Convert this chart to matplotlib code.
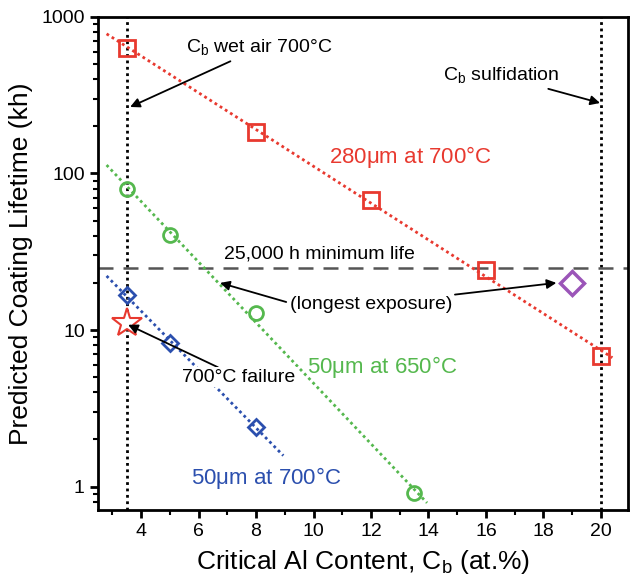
import numpy as np
import matplotlib
matplotlib.use("Agg")
import matplotlib.pyplot as plt
from matplotlib.ticker import FixedLocator, FuncFormatter, LogLocator, NullFormatter

plt.rcParams['font.family'] = ['Liberation Sans', 'DejaVu Sans']

# data
x_280_700 = [3.5, 8, 12, 16, 20]
y_280_700 = [630, 185, 68, 24, 6.8]
x_50_650 = [3.5, 5, 8, 13.5]
y_50_650 = [80, 40.5, 12.8, 0.91]
x_50_700 = [3.5, 5, 8]
y_50_700 = [16.8, 8.3, 2.4]
fail_x, fail_y = [3.5], [11.1]
long_x, long_y = [19], [20]
cb_wet, cb_sulf = 3.5, 20
min_life = 25

red = '#e8392f'
green = '#55b84e'
blue = '#2b4fae'
purple = '#9b55b8'

fig = plt.figure(figsize=(6.32, 5.84), dpi=100)
ax = fig.add_axes([0.155, 0.127, 0.839, 0.844])


def fitline(xs, ys, x0, x1, color):
    p = np.polyfit(xs, np.log10(ys), 1)
    xx = np.linspace(x0, x1, 50)
    ax.plot(xx, 10 ** np.polyval(p, xx), ls=(0, (1, 1.2)), lw=2, color=color, zorder=2)


fitline(x_280_700, y_280_700, 2.8, 20.4, red)
fitline(x_50_650, y_50_650, 2.8, 13.95, green)
fitline(x_50_700, y_50_700, 2.8, 8.95, blue)

ax.axvline(cb_wet, color='black', ls=(0, (1, 1.3)), lw=2, zorder=1)
ax.axvline(cb_sulf, color='black', ls=(0, (1, 1.3)), lw=2, zorder=1)
ax.axhline(min_life, color='#555555', ls=(0, (6, 4)), lw=1.8, zorder=1)

ax.plot(x_280_700, y_280_700, ls='none', marker='s', ms=12, mfc='none', mec=red, mew=2, zorder=4)
ax.plot(x_50_650, y_50_650, ls='none', marker='o', ms=10, mfc='none', mec=green, mew=2, zorder=4)
ax.plot(x_50_700, y_50_700, ls='none', marker='D', ms=8, mfc='none', mec=blue, mew=2, zorder=4)
ax.plot(long_x, long_y, ls='none', marker='D', ms=12, mfc='none', mec=purple, mew=2.5, zorder=4)
ax.plot(fail_x, fail_y, ls='none', marker='*', ms=22, mfc='white', mec=red, mew=1.5, zorder=4)

ax.set_yscale('log')
ax.set_xlim(2.5, 20.95)
ax.set_ylim(0.71, 1000)

ax.xaxis.set_major_locator(FixedLocator([4, 6, 8, 10, 12, 14, 16, 18, 20]))
ax.xaxis.set_minor_locator(FixedLocator([3, 5, 7, 9, 11, 13, 15, 17, 19]))
ax.yaxis.set_major_locator(FixedLocator([1, 10, 100, 1000]))
ax.yaxis.set_major_formatter(FuncFormatter(lambda v, pos: '%d' % v))
ax.yaxis.set_minor_locator(LogLocator(base=10, subs=np.arange(2, 10)))
ax.yaxis.set_minor_formatter(NullFormatter())

ax.tick_params(which='major', direction='out', length=6, width=2, labelsize=14, top=False, right=False)
ax.tick_params(which='minor', direction='out', length=3.5, width=1.5, top=False, right=False)
for s in ax.spines.values():
    s.set_linewidth(2)

ax.set_xlabel('Critical Al Content, C$_\\mathregular{b}$ (at.%)', fontsize=19, labelpad=6)
ax.set_ylabel('Predicted Coating Lifetime (kh)', fontsize=19, labelpad=6)

tkw = dict(fontsize=14, zorder=5)
arw = dict(arrowstyle='-|>', color='black', lw=1.3, mutation_scale=14, shrinkA=0, shrinkB=0)

ax.annotate('C$_\\mathregular{b}$ wet air 700°C', xy=(3.62, 266), xytext=(5.55, 630),
            ha='left', va='center', arrowprops=arw, **tkw)
ax.annotate('C$_\\mathregular{b}$ sulfidation', xy=(19.97, 282), xytext=(18.55, 420),
            ha='right', va='center', arrowprops=arw, **tkw)
ax.text(13.36, 127, '280$\\mathregular{\\mu}$m at 700°C', color=red, ha='center', va='center',
        fontsize=16, zorder=5, bbox=dict(fc='white', ec='none', pad=1))
ax.text(10.2, 30.5, '25,000 h minimum life', ha='center', va='center', **tkw)
ax.annotate('', xy=(6.75, 20), xytext=(9.05, 15.1), arrowprops=arw)
ax.annotate('(longest exposure)', xy=(18.45, 20), xytext=(12.0, 14.6),
            ha='center', va='center', arrowprops=arw, **tkw)
ax.text(12.4, 5.8, '50$\\mathregular{\\mu}$m at 650°C', color=green, ha='center', va='center',
        fontsize=16, zorder=5)
ax.annotate('700°C failure', xy=(3.55, 10.8), xytext=(7.4, 5.0),
            ha='center', va='center', arrowprops=arw,
            bbox=dict(fc='white', ec='none', pad=1), **tkw)
ax.text(8.35, 1.13, '50$\\mathregular{\\mu}$m at 700°C', color=blue, ha='center', va='center',
        fontsize=16, zorder=5)

fig.savefig('out.png', dpi=100)
